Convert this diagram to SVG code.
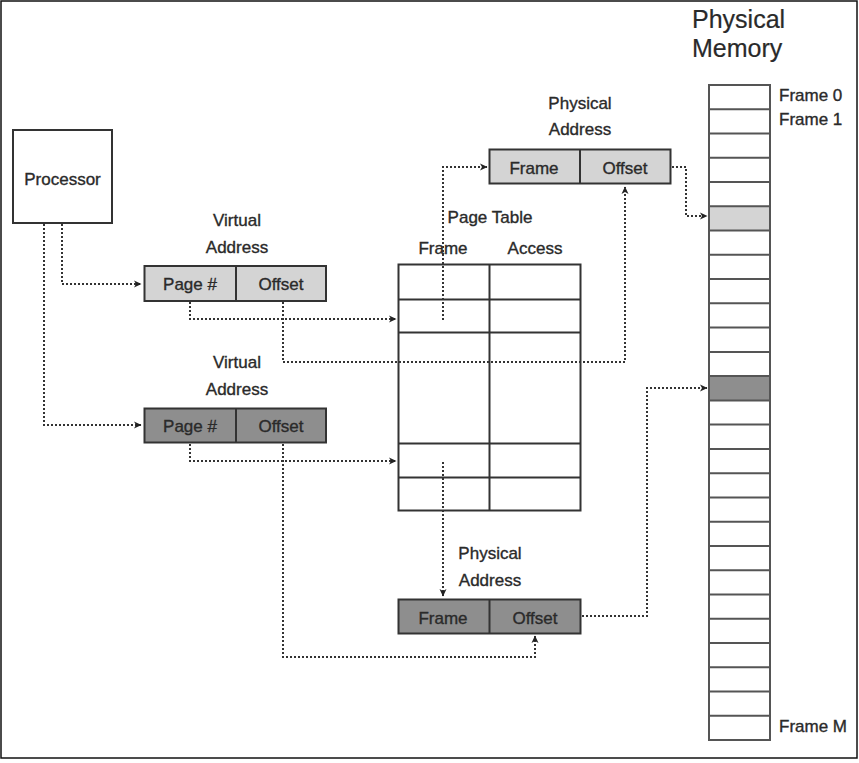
<svg xmlns="http://www.w3.org/2000/svg" width="859" height="763" viewBox="0 0 859 763">
<defs>
<style>
text{font-family:"Liberation Sans",Arial,sans-serif;font-size:17px;fill:#2a2a2a;stroke:#2a2a2a;stroke-width:0.35;text-anchor:middle}
.title{font-size:25px;text-anchor:start;stroke-width:0.2}
.lbl{text-anchor:start;font-size:17px}
.box{stroke:#333;stroke-width:2;fill:#fff}
.light{fill:#d4d4d4}
.dark{fill:#8e8e8e}
.div{stroke:#333;stroke-width:2}
.mem{stroke:#555;stroke-width:2}
.conn path{fill:none;stroke:#333;stroke-width:2;stroke-dasharray:2 2}
</style>
<marker id="ah" viewBox="0 0 8 8" refX="7" refY="4" markerWidth="8" markerHeight="8" markerUnits="userSpaceOnUse" orient="auto">
<path d="M0,0.5 L7.5,4 L0,7.5 L2,4 z" fill="#222"/>
</marker>
</defs>
<rect x="1" y="1" width="856" height="757" fill="#fff" stroke="#111" stroke-width="1.5"/>

<g id="processor">
<rect class="box" x="13" y="130" width="99" height="93"/>
<text x="62.5" y="185">Processor</text>
</g>

<g id="virtual-address-1">
<text x="237" y="226">Virtual</text>
<text x="237" y="253">Address</text>
<rect class="box light" x="144.5" y="266" width="181.5" height="35"/>
<line class="div" x1="236" y1="266" x2="236" y2="301"/>
<text x="190" y="290">Page #</text>
<text x="281" y="290">Offset</text>
</g>

<g id="virtual-address-2">
<text x="237" y="368">Virtual</text>
<text x="237" y="395">Address</text>
<rect class="box dark" x="144.5" y="408.5" width="181.5" height="34"/>
<line class="div" x1="236" y1="408.5" x2="236" y2="442.5"/>
<text x="190" y="432">Page #</text>
<text x="281" y="432">Offset</text>
</g>

<g id="page-table">
<text x="490" y="223">Page Table</text>
<text x="443" y="254">Frame</text>
<text x="535" y="254">Access</text>
<rect class="box" x="398.5" y="264.5" width="182" height="246"/>
<line class="div" x1="489.5" y1="264.5" x2="489.5" y2="510.5"/>
<line class="div" x1="398.5" y1="299.5" x2="580.5" y2="299.5"/>
<line class="div" x1="398.5" y1="332.5" x2="580.5" y2="332.5"/>
<line class="div" x1="398.5" y1="443.5" x2="580.5" y2="443.5"/>
<line class="div" x1="398.5" y1="477.5" x2="580.5" y2="477.5"/>
</g>

<g id="physical-address-1">
<text x="580" y="109">Physical</text>
<text x="580" y="135">Address</text>
<rect class="box light" x="489.5" y="149.5" width="181" height="34"/>
<line class="div" x1="580" y1="149.5" x2="580" y2="183.5"/>
<text x="534" y="174">Frame</text>
<text x="625" y="174">Offset</text>
</g>

<g id="physical-address-2">
<text x="490" y="559">Physical</text>
<text x="490" y="586">Address</text>
<rect class="box dark" x="398.5" y="599.5" width="182" height="34"/>
<line class="div" x1="489.5" y1="599.5" x2="489.5" y2="633.5"/>
<text x="443" y="624">Frame</text>
<text x="535" y="624">Offset</text>
</g>

<g id="physical-memory">
<text class="title" x="692" y="28">Physical</text>
<text class="title" x="692" y="57">Memory</text>
<rect x="709" y="206.3" width="61" height="24.3" class="light"/>
<rect x="709" y="376.1" width="61" height="24.3" class="dark"/>
<g class="mem">
<line x1="709" y1="109.3" x2="770" y2="109.3"/>
<line x1="709" y1="133.5" x2="770" y2="133.5"/>
<line x1="709" y1="157.8" x2="770" y2="157.8"/>
<line x1="709" y1="182" x2="770" y2="182"/>
<line x1="709" y1="206.3" x2="770" y2="206.3"/>
<line x1="709" y1="230.6" x2="770" y2="230.6"/>
<line x1="709" y1="254.8" x2="770" y2="254.8"/>
<line x1="709" y1="279.1" x2="770" y2="279.1"/>
<line x1="709" y1="303.3" x2="770" y2="303.3"/>
<line x1="709" y1="327.6" x2="770" y2="327.6"/>
<line x1="709" y1="351.9" x2="770" y2="351.9"/>
<line x1="709" y1="376.1" x2="770" y2="376.1"/>
<line x1="709" y1="400.4" x2="770" y2="400.4"/>
<line x1="709" y1="424.6" x2="770" y2="424.6"/>
<line x1="709" y1="448.9" x2="770" y2="448.9"/>
<line x1="709" y1="473.2" x2="770" y2="473.2"/>
<line x1="709" y1="497.4" x2="770" y2="497.4"/>
<line x1="709" y1="521.7" x2="770" y2="521.7"/>
<line x1="709" y1="545.9" x2="770" y2="545.9"/>
<line x1="709" y1="570.2" x2="770" y2="570.2"/>
<line x1="709" y1="594.5" x2="770" y2="594.5"/>
<line x1="709" y1="618.7" x2="770" y2="618.7"/>
<line x1="709" y1="643" x2="770" y2="643"/>
<line x1="709" y1="667.2" x2="770" y2="667.2"/>
<line x1="709" y1="691.5" x2="770" y2="691.5"/>
<line x1="709" y1="715.8" x2="770" y2="715.8"/>
<rect x="709" y="85" width="61" height="655" fill="none"/>
</g>
<text class="lbl" x="779" y="101">Frame 0</text>
<text class="lbl" x="779" y="125">Frame 1</text>
<text class="lbl" x="779" y="732">Frame M</text>
</g>

<g class="conn" id="connectors">
<path d="M62,224 V284 H141" marker-end="url(#ah)"/>
<path d="M44,224 V425 H141" marker-end="url(#ah)"/>
<path d="M190,302 V319 H396" marker-end="url(#ah)"/>
<path d="M283,302 V362 H625 V187" marker-end="url(#ah)"/>
<path d="M443,320 V167 H487" marker-end="url(#ah)"/>
<path d="M672,167 H686 V216 H707" marker-end="url(#ah)"/>
<path d="M190,444 V461 H396" marker-end="url(#ah)"/>
<path d="M283,444 V657 H535 V636" marker-end="url(#ah)"/>
<path d="M443,462 V596" marker-end="url(#ah)"/>
<path d="M582,616 H647 V388 H707" marker-end="url(#ah)"/>
</g>
</svg>
